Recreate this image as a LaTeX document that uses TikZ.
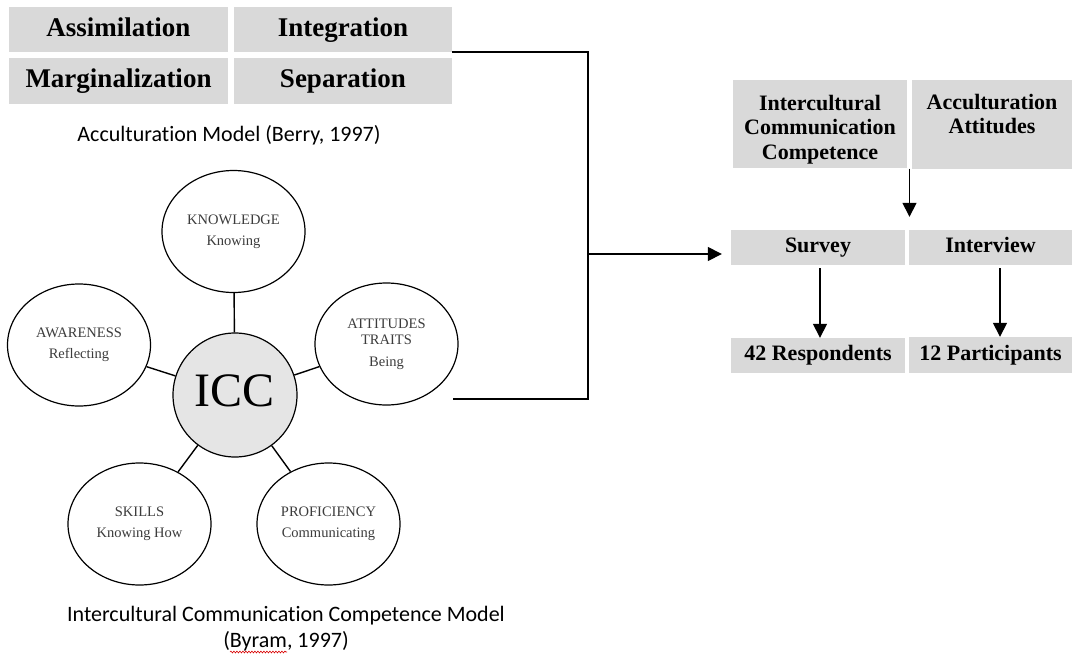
\documentclass[tikz,border=0pt]{standalone}
\usepackage{fontspec}
\setmainfont{Liberation Serif}
\newfontfamily\capfont[Ligatures=NoCommon]{Carlito}
\usetikzlibrary{arrows.meta,shapes.geometric,decorations.pathmorphing,calc}
\definecolor{boxgray}{RGB}{217,217,217}
\definecolor{iccgray}{RGB}{229,229,229}
\definecolor{labelgray}{RGB}{60,60,60}
\begin{document}
\begin{tikzpicture}[x=1pt,y=-1pt,
  gbox/.style={fill=boxgray, draw=none, inner sep=0pt},
  bigtxt/.style={font=\fontsize{27}{30}\selectfont\bfseries, text height=19pt, text depth=6pt},
  medtxt/.style={font=\fontsize{22}{24.5}\selectfont\bfseries, align=center, inner sep=0pt},
  medone/.style={font=\fontsize{22}{24.5}\selectfont\bfseries, text height=15.5pt, text depth=5pt},
  bubble/.style={ellipse, draw=black, line width=1.2pt, minimum width=143pt, minimum height=122pt, inner sep=0pt, align=center, text=labelgray, font=\fontsize{14.5}{17.5}\selectfont},
  link/.style={line width=1.4pt},
  conn/.style={line width=1.6pt},
  arr/.style={line width=1.5pt, -{Triangle[length=14pt,width=14pt]}},
  capt/.style={font=\capfont\fontsize{22}{26}\selectfont, align=center}
]
\fill[white] (0,0) rectangle (1072,654);
\useasboundingbox (0,0) rectangle (1072,654);

% Acculturation model boxes
\node[gbox,bigtxt,minimum width=219pt,minimum height=45pt] (assim) at (118.5,29.5) {Assimilation};
\node[gbox,bigtxt,minimum width=218pt,minimum height=45pt] (integ) at (343,29.5) {Integration};
\node[gbox,bigtxt,minimum width=219pt,minimum height=46pt] (margin) at (118.5,81) {Marginalization};
\node[gbox,bigtxt,minimum width=218pt,minimum height=46pt] (separ) at (343,81) {Separation};
\node[capt] (berrycap) at (229,135) {Acculturation Model (Berry, 1997)};

% ICC model
\node[circle, draw=black, line width=1.2pt, fill=iccgray, minimum size=124pt, inner sep=0pt, font=\fontsize{48}{50}\selectfont, text depth=9pt] (icc) at (235,395) {ICC};
\node[bubble] (know) at (233.5,231.5) {KNOWLEDGE\\[3.5pt]Knowing};
\node[bubble] (aware) at (79,345) {AWARENESS\\[3.5pt]Reflecting};
\node[bubble] (attit) at (386.5,344) {ATTITUDES\\[-1pt]TRAITS\\[4pt]Being};
\node[bubble] (skill) at (139.5,524) {SKILLS\\[4pt]Knowing How};
\node[bubble] (prof) at (328.5,524) {PROFICIENCY\\[4pt]Communicating};
\draw[link] (icc) -- (know);
\draw[link] (icc) -- (aware);
\draw[link] (icc) -- (attit);
\draw[link] (icc) -- (skill);
\draw[link] (icc) -- (prof);
\node[capt] (byramcap) at (286,629) {Intercultural Communication Competence Model\\(Byram, 1997)};
\draw[red!85!black, line width=0.6pt, decorate, decoration={snake, amplitude=0.9pt, segment length=3pt}] (230,652) -- (287,652);

% right side boxes
\node[gbox,minimum width=174pt,minimum height=88pt] (iccbox) at (820,124) {};
\node[medtxt] (icctext) at (820,129.5) {Intercultural\\Communication\\Competence};
\node[gbox,minimum width=160pt,minimum height=89pt] (aabox) at (992,124.5) {};
\node[medtxt] (aatext) at (992,114) {Acculturation\\Attitudes};
\node[gbox,medone,minimum width=174pt,minimum height=35pt] (survey) at (818,247.5) {Survey};
\node[gbox,medone,minimum width=163pt,minimum height=35pt] (interview) at (990.5,247.5) {Interview};
\node[gbox,medone,minimum width=174pt,minimum height=35pt] (resp) at (818,355.5) {42 Respondents};
\node[gbox,medone,minimum width=163pt,minimum height=36pt] (part) at (990.5,355) {12 Participants};

% connectors
\coordinate (junction) at (588,254);
\coordinate (lowend) at (453,399);
\draw[conn] (integ.south east) -| (junction |- lowend) -- (lowend);
\draw[arr, shorten >=9pt] (junction) -- (junction -| survey.west);
\coordinate (topmid) at ($(iccbox.south east)!.5!(aabox.south west)$);
\draw[arr, shorten >=13pt] (topmid) -- (topmid |- survey.north);
\draw[arr, shorten <=3pt] ([xshift=2pt]survey.south) -- ([xshift=2pt]resp.north);
\draw[arr, shorten <=3pt] ([xshift=9.5pt]interview.south) -- ([xshift=9.5pt]part.north);
\end{tikzpicture}
\end{document}
